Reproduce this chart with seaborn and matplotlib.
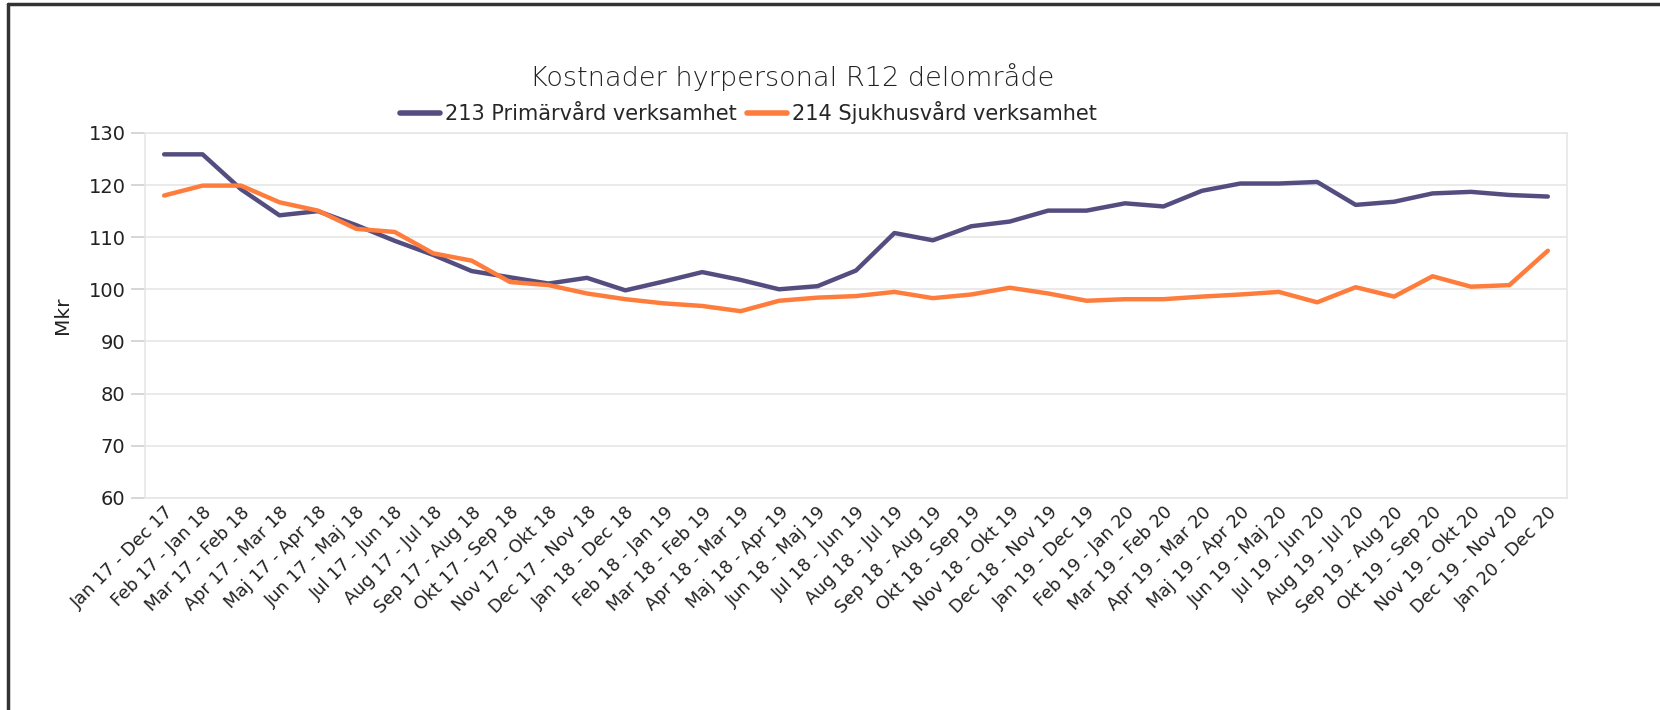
import pandas as pd
import matplotlib
matplotlib.use("Agg")
import matplotlib.pyplot as plt
import seaborn as sns
from matplotlib.lines import Line2D

# Rolling 12-month periods
periods = [
    "Jan 17 - Dec 17", "Feb 17 - Jan 18", "Mar 17 - Feb 18", "Apr 17 - Mar 18",
    "Maj 17 - Apr 18", "Jun 17 - Maj 18", "Jul 17 - Jun 18", "Aug 17 - Jul 18",
    "Sep 17 - Aug 18", "Okt 17 - Sep 18", "Nov 17 - Okt 18", "Dec 17 - Nov 18",
    "Jan 18 - Dec 18", "Feb 18 - Jan 19", "Mar 18 - Feb 19", "Apr 18 - Mar 19",
    "Maj 18 - Apr 19", "Jun 18 - Maj 19", "Jul 18 - Jun 19", "Aug 18 - Jul 19",
    "Sep 18 - Aug 19", "Okt 18 - Sep 19", "Nov 18 - Okt 19", "Dec 18 - Nov 19",
    "Jan 19 - Dec 19", "Feb 19 - Jan 20", "Mar 19 - Feb 20", "Apr 19 - Mar 20",
    "Maj 19 - Apr 20", "Jun 19 - Maj 20", "Jul 19 - Jun 20", "Aug 19 - Jul 20",
    "Sep 19 - Aug 20", "Okt 19 - Sep 20", "Nov 19 - Okt 20", "Dec 19 - Nov 20",
    "Jan 20 - Dec 20",
]

# Costs (Mkr)
primarvard = [125.9, 125.9, 119.2, 114.2, 115.0, 112.3, 109.3, 106.6, 103.5, 102.3,
              101.1, 102.2, 99.8, 101.5, 103.3, 101.8, 100.0, 100.6, 103.6, 110.8,
              109.4, 112.1, 113.0, 115.1, 115.1, 116.5, 115.9, 118.9, 120.3, 120.3,
              120.6, 116.2, 116.8, 118.4, 118.7, 118.1, 117.8]
sjukhusvard = [118.0, 119.9, 119.9, 116.7, 115.1, 111.6, 111.0, 106.9, 105.5, 101.4,
               100.8, 99.2, 98.1, 97.3, 96.8, 95.8, 97.8, 98.4, 98.7, 99.5,
               98.3, 99.0, 100.3, 99.2, 97.8, 98.1, 98.1, 98.6, 99.0, 99.5,
               97.5, 100.4, 98.6, 102.5, 100.5, 100.8, 107.4]

series_names = ["213 Primärvård verksamhet", "214 Sjukhusvård verksamhet"]
colors = ["#544e80", "#ff7d3c"]

df = pd.concat([
    pd.DataFrame({"period": periods, "Mkr": primarvard, "serie": series_names[0]}),
    pd.DataFrame({"period": periods, "Mkr": sjukhusvard, "serie": series_names[1]}),
])

sns.set_style("white")
plt.rcParams["font.family"] = ["DejaVu Sans"]

fig = plt.figure(figsize=(16.6, 7.1), dpi=100)
ax = fig.add_axes([0.0873, 0.299, 0.8567, 0.5137])

sns.lineplot(data=df, x="period", y="Mkr", hue="serie", palette=colors,
             sort=False, linewidth=3.2, ax=ax, legend=False)

ax.set_xlim(-0.5, len(periods) - 0.5)
ax.set_ylim(60, 130)
ax.set_yticks(range(60, 131, 10))
ax.yaxis.grid(True, color="#e6e6e6", linewidth=1.2)
ax.xaxis.grid(False)
for s in ax.spines.values():
    s.set_color("#e6e6e6")
    s.set_linewidth(1.2)

ax.tick_params(axis="y", length=10, width=1.2, color="#d0d0d0", labelsize=14,
               labelcolor="#222222", pad=4, left=True)
ax.tick_params(axis="x", length=0, labelsize=12.8, labelcolor="#222222", pad=4)
plt.setp(ax.get_xticklabels(), rotation=45, ha="right", rotation_mode="anchor")

ax.set_xlabel("")
ax.set_ylabel("Mkr", fontsize=14.5, color="#222222", labelpad=12)

fig.text(0.477, 0.892, "Kostnader hyrpersonal R12 delområde", ha="center",
         va="center", fontsize=19.5, fontweight="light", color="#222222")

handles = [Line2D([0], [0], color=c, linewidth=4) for c in colors]
fig.legend(handles, series_names, loc="center", bbox_to_anchor=(0.451, 0.841),
           ncol=2, frameon=False, fontsize=15, handlelength=1.9,
           handletextpad=0.25, columnspacing=0.5)

# screenshot frame (top and left edges)
fig.add_artist(Line2D([0.005, 1.0], [0.995, 0.995], color="#333333", linewidth=2.5))
fig.add_artist(Line2D([0.005, 0.005], [0.0, 0.995], color="#333333", linewidth=2.5))

fig.savefig("out.png", dpi=100, facecolor="white")
